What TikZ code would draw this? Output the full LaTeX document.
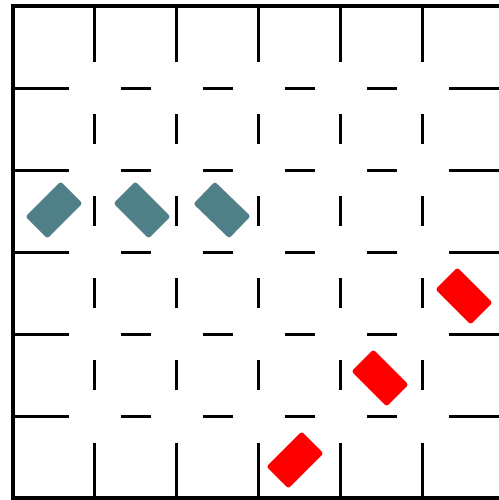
\documentclass[tikz,border=0pt]{standalone}
\definecolor{botteal}{RGB}{80,128,135}
\definecolor{botred}{RGB}{255,0,0}
\begin{document}
\begin{tikzpicture}[x=0.5pt,y=-0.5pt,
  wall/.style={line width=1.5pt},
  border/.style={line width=1.7pt},
  robot/.style={rectangle, inner sep=0pt, minimum width=24.8pt, minimum height=15.4pt, rounded corners=1.2pt},
  tealrobot/.style={robot, fill=botteal},
  redrobot/.style={robot, fill=botred}]
\useasboundingbox (0,0) rectangle (499,500);
\draw[border] (499,6) -- (13,6) -- (13,498) -- (499,498);
\foreach \i in {1,...,5}{
  \pgfmathsetmacro\xx{13+82*\i}
  \pgfmathsetmacro\yy{6+82*\i}
  \draw[wall] (\xx,6) -- (\xx,61.5);
  \draw[wall] (\xx,442.5) -- (\xx,498);
  \draw[wall] (13,\yy) -- (69.5,\yy);
  \draw[wall] (449.5,\yy) -- (499,\yy);
  \foreach \r in {1,...,4}{
    \pgfmathsetmacro\cc{47+82*\r}
    \pgfmathsetmacro\dd{54+82*\r}
    \draw[wall] (\xx,\cc-15) -- (\xx,\cc+15);
    \draw[wall] (\dd-15,\yy) -- (\dd+15,\yy);
  }
}
\node[tealrobot, rotate=45] (t1) at (54,210) {};
\node[tealrobot, rotate=-45] (t2) at (142,210) {};
\node[tealrobot, rotate=-44] (t3) at (222,210) {};
\node[redrobot, rotate=-45] (r1) at (464,296) {};
\node[redrobot, rotate=-45] (r2) at (380,378) {};
\node[redrobot, rotate=45] (r3) at (295,460) {};
\end{tikzpicture}
\end{document}
